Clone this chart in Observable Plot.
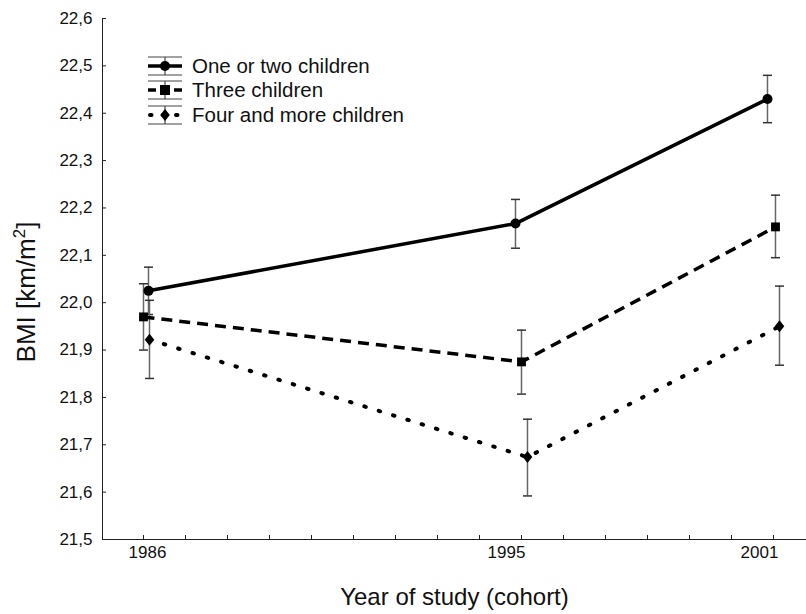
<!DOCTYPE html>
<html>
<head>
<meta charset="utf-8">
<script src="https://cdn.jsdelivr.net/npm/d3@7"></script>
<script src="https://cdn.jsdelivr.net/npm/@observablehq/plot@0.6"></script>
<style>
  html, body { margin: 0; padding: 0; background: #fff; }
  #chart { width: 806px; height: 614px; }
</style>
</head>
<body>
<div id="chart"></div>
<script>
// ---- data ----
const years = [1986, 1995, 2001];
const seriesNames = ["One or two children", "Three children", "Four and more children"];
const bmiOneTwo  = [22.025, 22.167, 22.430];
const lowOneTwo  = [21.975, 22.115, 22.380];
const highOneTwo = [22.075, 22.218, 22.480];
const bmiThree   = [21.970, 21.875, 22.160];
const lowThree   = [21.900, 21.807, 22.095];
const highThree  = [22.040, 21.942, 22.227];
const bmiFour    = [21.922, 21.674, 21.950];
const lowFour    = [21.840, 21.592, 21.868];
const highFour   = [22.005, 21.754, 22.035];
const yTicks = [21.5, 21.6, 21.7, 21.8, 21.9, 22.0, 22.1, 22.2, 22.3, 22.4, 22.5, 22.6];
const xMinorTicks = d3.range(1986, 2002);
const xTickLabels = ["1986", "1995", "2001"];
const xTitle = "Year of study (cohort)";
const yTitleMain = "BMI [km/m";
const yTitleSup = "2";
const yTitleEnd = "]";

// ---- layout ----
const W = 806, H = 614;
const mL = 102, mT = 18, mB = 75, mR = 0;
const plotW = W - mL - mR, plotH = H - mT - mB;
const xDomain = [1985.024, 2001.786];
const yDomain = [21.5, 22.6];
const pxPerYear = plotW / (xDomain[1] - xDomain[0]);
// horizontal pixel nudges of the markers (dodging), and of the tick labels
const nudge = [[5, -6, -6], [0, 0, 2], [6, 6, 6]];
const labelNudge = [4, -15, -14];

const styles = [
  {dash: null, cap: "butt", width: 3.5, symbol: "circle", r: 5},
  {dash: "11 7", cap: "butt", width: 3.5, symbol: "square", r: 5},
  {dash: "1.5 13.5", cap: "round", width: 4, symbol: "rhomb", r: 6}
];
const series = [
  {name: seriesNames[0], bmi: bmiOneTwo, low: lowOneTwo, high: highOneTwo},
  {name: seriesNames[1], bmi: bmiThree, low: lowThree, high: highThree},
  {name: seriesNames[2], bmi: bmiFour, low: lowFour, high: highFour}
];
series.forEach((s, k) => {
  Object.assign(s, styles[k]);
  s.rows = years.map((yr, i) => ({year: yr, xpos: yr + nudge[k][i] / pxPerYear, bmi: s.bmi[i], low: s.low[i], high: s.high[i]}));
});

const capSymbol = {draw(ctx) { ctx.moveTo(-4.5, 0); ctx.lineTo(4.5, 0); }};
const rhomb = {draw(ctx) { ctx.moveTo(0, -6); ctx.lineTo(4.8, 0); ctx.lineTo(0, 6); ctx.lineTo(-4.8, 0); ctx.closePath(); }};
const sym = s => s === "rhomb" ? rhomb : s;

const fmt = d => d.toFixed(1).replace(".", ",");
const marks = [];
// axes
marks.push(Plot.ruleX([xDomain[0]], {stroke: "#222", strokeWidth: 1}));
marks.push(Plot.ruleY([yDomain[0]], {stroke: "#222", strokeWidth: 1}));
marks.push(Plot.tickY(yTicks, {y: d => d, insetRight: plotW - 4, stroke: "#222"}));
marks.push(Plot.tickX(xMinorTicks, {x: d => d, insetTop: plotH - 4, stroke: "#222"}));
marks.push(Plot.axisY(yTicks, {tickSize: 0, tickPadding: 10, tickFormat: fmt, fontSize: 17, label: null, fill: "#111"}));
marks.push(Plot.text(years, {x: (d, i) => d + labelNudge[i] / pxPerYear, text: (d, i) => xTickLabels[i], frameAnchor: "bottom", dy: 18, fontSize: 17, fill: "#111"}));
marks.push(Plot.text([xTitle], {frameAnchor: "bottom", dy: 65, fontSize: 24, fill: "#111"}));

// error bars
for (const s of series) {
  marks.push(Plot.ruleX(s.rows, {x: "xpos", y1: "low", y2: "high", stroke: "#666", strokeWidth: 1.5}));
  marks.push(Plot.dot(s.rows, {x: "xpos", y: "low", symbol: capSymbol, stroke: "#333", strokeWidth: 1.5, fill: "none"}));
  marks.push(Plot.dot(s.rows, {x: "xpos", y: "high", symbol: capSymbol, stroke: "#333", strokeWidth: 1.5, fill: "none"}));
}
// lines
for (const s of series) {
  marks.push(Plot.line(s.rows, {x: "xpos", y: "bmi", stroke: "#000", strokeWidth: s.width, strokeDasharray: s.dash, strokeLinecap: s.cap}));
}
// markers
for (const s of series) {
  marks.push(Plot.dot(s.rows, {x: "xpos", y: "bmi", symbol: sym(s.symbol), r: s.r, fill: "#000", stroke: "none"}));
}

const chart = Plot.plot({
  width: W, height: H,
  marginLeft: mL, marginTop: mT, marginBottom: mB, marginRight: mR,
  x: {domain: xDomain, axis: null},
  y: {domain: yDomain, axis: null},
  style: {fontFamily: "'Liberation Sans', Arial, sans-serif", background: "#fff", color: "#111"},
  marks
});
document.getElementById("chart").appendChild(chart);

const svg = d3.select(chart);
// ---- y title with superscript ----
const yt = svg.append("text")
  .attr("transform", "translate(35,292) rotate(-90)")
  .attr("text-anchor", "middle")
  .attr("font-family", "'Liberation Sans', Arial, sans-serif")
  .attr("font-size", 26).attr("fill", "#111");
yt.append("tspan").text(yTitleMain);
yt.append("tspan").attr("font-size", 17).attr("dy", -10).text(yTitleSup);
yt.append("tspan").attr("dy", 10).text(yTitleEnd);

// ---- legend ----
const lg = svg.append("g").attr("font-family", "'Liberation Sans', Arial, sans-serif");
const lx0 = 148, lx1 = 182, lcx = 165, rowY = [66, 90, 115], textX = 192;
series.forEach((s, i) => {
  const cy = rowY[i];
  const g = lg.append("g");
  g.append("line").attr("x1", lx0).attr("x2", lx1).attr("y1", cy - 9).attr("y2", cy - 9).attr("stroke", "#444").attr("stroke-width", 1.2);
  g.append("line").attr("x1", lx0).attr("x2", lx1).attr("y1", cy + 9).attr("y2", cy + 9).attr("stroke", "#444").attr("stroke-width", 1.2);
  g.append("line").attr("x1", lcx).attr("x2", lcx).attr("y1", cy - 9).attr("y2", cy + 9).attr("stroke", "#444").attr("stroke-width", 1.2);
  g.append("line").attr("x1", lx0).attr("x2", lx1).attr("y1", cy).attr("y2", cy)
    .attr("stroke", "#000").attr("stroke-width", s.width)
    .attr("stroke-dasharray", i === 1 ? "8 5" : (i === 2 ? "1.5 11.5" : null))
    .attr("stroke-dashoffset", i === 2 ? -2 : 0)
    .attr("stroke-linecap", s.cap);
  if (s.symbol === "circle") {
    g.append("circle").attr("cx", lcx).attr("cy", cy).attr("r", 5).attr("fill", "#000");
  } else if (s.symbol === "square") {
    g.append("rect").attr("x", lcx - 5).attr("y", cy - 5).attr("width", 10).attr("height", 10).attr("fill", "#000");
  } else {
    g.append("path").attr("d", "M0,-6L4.8,0L0,6L-4.8,0Z").attr("transform", `translate(${lcx},${cy})`).attr("fill", "#000");
  }
  g.append("text").attr("x", textX).attr("y", cy).attr("dy", "0.36em").attr("text-anchor", "start")
    .attr("font-size", 20.5).attr("fill", "#111").text(s.name);
});
</script>
</body>
</html>
